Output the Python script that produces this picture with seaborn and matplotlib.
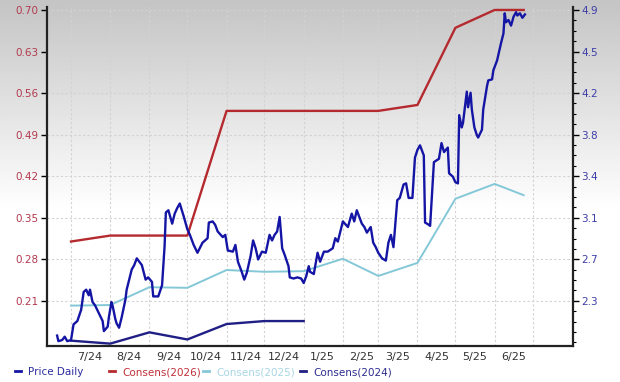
import matplotlib
matplotlib.use("Agg")

import numpy as np
import pandas as pd
import matplotlib.pyplot as plt
import matplotlib.dates as mdates
from matplotlib.ticker import AutoMinorLocator, FixedLocator, FixedFormatter, NullFormatter
import seaborn as sns


# daily share price (right axis)
price_dates = [
    "2024-06-20", "2024-06-21", "2024-06-24", "2024-06-26", "2024-06-28", "2024-07-01",
    "2024-07-03", "2024-07-06", "2024-07-09", "2024-07-11", "2024-07-13", "2024-07-15",
    "2024-07-16", "2024-07-18", "2024-07-20", "2024-07-23", "2024-07-26", "2024-07-27",
    "2024-07-30", "2024-07-31", "2024-08-02", "2024-08-03", "2024-08-05", "2024-08-06",
    "2024-08-08", "2024-08-10", "2024-08-13", "2024-08-14", "2024-08-18", "2024-08-20",
    "2024-08-22", "2024-08-24", "2024-08-26", "2024-08-29", "2024-08-31", "2024-09-03",
    "2024-09-04", "2024-09-06", "2024-09-08", "2024-09-11", "2024-09-13", "2024-09-14",
    "2024-09-16", "2024-09-19", "2024-09-21", "2024-09-23", "2024-09-25", "2024-09-28",
    "2024-10-01", "2024-10-03", "2024-10-06", "2024-10-09", "2024-10-13", "2024-10-17",
    "2024-10-18", "2024-10-21", "2024-10-23", "2024-10-25", "2024-10-29", "2024-10-31",
    "2024-11-02", "2024-11-06", "2024-11-08", "2024-11-10", "2024-11-13", "2024-11-15",
    "2024-11-17", "2024-11-20", "2024-11-22", "2024-11-24", "2024-11-26", "2024-11-29",
    "2024-12-02", "2024-12-05", "2024-12-07", "2024-12-09", "2024-12-11", "2024-12-13",
    "2024-12-15", "2024-12-17", "2024-12-20", "2024-12-21", "2024-12-24", "2024-12-27",
    "2024-12-30", "2025-01-01", "2025-01-03", "2025-01-05", "2025-01-06", "2025-01-09",
    "2025-01-12", "2025-01-14", "2025-01-17", "2025-01-20", "2025-01-24", "2025-01-26",
    "2025-01-28", "2025-02-01", "2025-02-05", "2025-02-08", "2025-02-10", "2025-02-12",
    "2025-02-16", "2025-02-18", "2025-02-20", "2025-02-23", "2025-02-25", "2025-02-27",
    "2025-03-01", "2025-03-04", "2025-03-07", "2025-03-09", "2025-03-11", "2025-03-13",
    "2025-03-16", "2025-03-18", "2025-03-21", "2025-03-23", "2025-03-25", "2025-03-28",
    "2025-03-30", "2025-04-01", "2025-04-03", "2025-04-06", "2025-04-07", "2025-04-10",
    "2025-04-11", "2025-04-14", "2025-04-18", "2025-04-20", "2025-04-22", "2025-04-25",
    "2025-04-26", "2025-04-29", "2025-05-01", "2025-05-03", "2025-05-04", "2025-05-06",
    "2025-05-07", "2025-05-10", "2025-05-11", "2025-05-13", "2025-05-14", "2025-05-16",
    "2025-05-18", "2025-05-19", "2025-05-22", "2025-05-23", "2025-05-26", "2025-05-27",
    "2025-05-30", "2025-05-31", "2025-06-03", "2025-06-06", "2025-06-08", "2025-06-09",
    "2025-06-10", "2025-06-12", "2025-06-14", "2025-06-16", "2025-06-18", "2025-06-19",
    "2025-06-21", "2025-06-23", "2025-06-25",
]
price_values = [
    2.00, 1.95, 1.96, 1.99, 1.95, 1.96,
    2.10, 2.13, 2.23, 2.39, 2.41, 2.36,
    2.41, 2.30, 2.27, 2.20, 2.13, 2.04,
    2.08, 2.17, 2.30, 2.26, 2.15, 2.11,
    2.07, 2.16, 2.32, 2.41, 2.59, 2.63,
    2.69, 2.66, 2.63, 2.50, 2.52, 2.48,
    2.35, 2.35, 2.35, 2.45, 2.80, 3.10,
    3.12, 3.00, 3.09, 3.14, 3.18, 3.07,
    2.95, 2.90, 2.81, 2.74, 2.83, 2.87,
    3.01, 3.02, 2.99, 2.93, 2.88, 2.90,
    2.76, 2.75, 2.81, 2.66, 2.57, 2.50,
    2.56, 2.71, 2.85, 2.78, 2.68, 2.75,
    2.74, 2.90, 2.85, 2.90, 2.93, 3.06,
    2.78, 2.72, 2.62, 2.52, 2.51, 2.52,
    2.51, 2.47, 2.53, 2.62, 2.57, 2.55,
    2.74, 2.66, 2.75, 2.75, 2.78, 2.87,
    2.84, 3.02, 2.97, 3.09, 3.02, 3.12,
    3.00, 2.97, 2.92, 2.97, 2.83, 2.79,
    2.74, 2.69, 2.67, 2.83, 2.90, 2.79,
    3.21, 3.23, 3.35, 3.36, 3.23, 3.23,
    3.59, 3.66, 3.70, 3.61, 3.01, 2.99,
    2.98, 3.55, 3.58, 3.72, 3.64, 3.68,
    3.45, 3.42, 3.37, 3.36, 3.97, 3.86,
    3.90, 4.18, 4.04, 4.17, 4.02, 3.86,
    3.79, 3.77, 3.84, 4.02, 4.23, 4.28,
    4.29, 4.37, 4.46, 4.61, 4.70, 4.88,
    4.80, 4.82, 4.77, 4.85, 4.89, 4.86,
    4.88, 4.84, 4.87,
]

# consensus EPS estimates (left axis)
cons_dates = [
    "2024-07-01", "2024-08-01", "2024-09-01", "2024-10-01", "2024-11-01", "2024-12-01",
    "2025-01-01", "2025-02-01", "2025-03-01", "2025-04-01", "2025-05-01", "2025-06-01",
    "2025-06-24",
]
cons_2026 = [0.31, 0.32, 0.32, 0.32, 0.53, 0.53, 0.53, 0.53, 0.53, 0.54, 0.67, 0.70, 0.70]
cons_2025 = [0.202, 0.203, 0.233, 0.232, 0.262, 0.259, 0.260, 0.281, 0.252, 0.274, 0.382, 0.407, 0.388]
cons_2024 = [0.143, 0.138, 0.157, 0.145, 0.171, 0.176, 0.176]

left_ticks = [0.21, 0.28, 0.35, 0.42, 0.49, 0.56, 0.63, 0.70]
right_labels = ["2.3", "2.7", "3.1", "3.4", "3.8", "4.2", "4.5", "4.9"]
x_labels = ["7/24", "8/24", "9/24", "10/24", "11/24", "12/24",
            "1/25", "2/25", "3/25", "4/25", "5/25", "6/25"]


def left_to_right(v):
    # price axis is scaled so that its gridlines sit on the EPS gridlines
    return 2.31 + (v - 0.21) / 0.07 * 0.3714


def main():
    plt.rcParams['font.family'] = ['DejaVu Sans']
    fig = plt.figure(figsize=(6.2, 3.82), dpi=100)

    # grey-to-white background
    bg = fig.add_axes([0, 0, 1, 1], zorder=-10)
    t = np.linspace(0, 1, 200)
    grad = np.clip(0.77 + 0.23 * t / 0.55, 0, 1).reshape(-1, 1)
    bg.imshow(grad, aspect='auto', cmap='gray', vmin=0, vmax=1, extent=[0, 1, 0, 1])
    bg.axis('off')

    ax = fig.add_axes([47 / 620, 36 / 382, 526 / 620, 339 / 382])
    ax.set_facecolor('none')
    ax2 = ax.twinx()
    ax2.set_facecolor('none')

    cd = pd.to_datetime(cons_dates)
    sns.lineplot(x=cd, y=cons_2026, ax=ax, color='#b52a2e', lw=1.7, label='Consens(2026)')
    sns.lineplot(x=cd, y=cons_2025, ax=ax, color='#84c8d8', lw=1.4, label='Consens(2025)')
    sns.lineplot(x=cd[:len(cons_2024)], y=cons_2024, ax=ax, color='#1f1f85', lw=1.7,
                 label='Consens(2024)')
    sns.lineplot(x=pd.to_datetime(price_dates), y=price_values, ax=ax2, color='#1515a5',
                 lw=1.7, label='Price Daily')
    for a in (ax, ax2):
        if a.get_legend() is not None:
            a.get_legend().remove()

    lo, hi = 0.134, 0.705
    ax.set_ylim(lo, hi)
    ax2.set_ylim(left_to_right(lo), left_to_right(hi))
    ax.set_xlim(pd.Timestamp("2024-06-12"), pd.Timestamp("2025-08-02"))

    ax.set_yticks(left_ticks, [f"{v:.2f}" for v in left_ticks])
    ax2.set_yticks([left_to_right(v) for v in left_ticks], right_labels)
    ax2.yaxis.set_minor_locator(AutoMinorLocator(4))

    # gridlines on month starts, labels in the middle of each month
    ax.xaxis.set_major_locator(mdates.MonthLocator())
    ax.xaxis.set_major_formatter(NullFormatter())
    mid = pd.date_range("2024-07-01", periods=12, freq="MS") + pd.Timedelta(days=15)
    ax.xaxis.set_minor_locator(FixedLocator(mdates.date2num(mid)))
    ax.xaxis.set_minor_formatter(FixedFormatter(x_labels))
    ax.tick_params(axis='x', which='both', length=0, pad=4, labelsize=8, labelcolor='#333333')

    ax.tick_params(axis='y', length=4, width=1, pad=2, labelsize=7.5, labelcolor='#b23a4e')
    ax2.tick_params(axis='y', which='major', length=4, width=1, pad=2, labelsize=7.5,
                    labelcolor='#3d3da8')
    ax2.tick_params(axis='y', which='minor', length=2.5, width=0.8)

    ax.grid(True, which='major', color='#d2d2d2', ls=(0, (2, 2)), lw=0.8)
    ax.set_axisbelow(True)
    ax.set_xlabel('')
    ax.set_ylabel('')
    ax2.set_ylabel('')

    for s in ('top', 'right'):
        ax.spines[s].set_visible(False)
    for s in ('top', 'left', 'bottom'):
        ax2.spines[s].set_visible(False)
    for sp in (ax.spines['left'], ax.spines['bottom'], ax2.spines['right']):
        sp.set_linewidth(1.6)
        sp.set_color('#222222')

    # legend row along the bottom, one entry per slot
    lines = {l.get_label(): l for l in ax.get_lines() + ax2.get_lines()}
    entries = [('Price Daily', '#2c2ca0', 0.024),
               ('Consens(2026)', '#c0303a', 0.176),
               ('Consens(2025)', '#a8d6e4', 0.327),
               ('Consens(2024)', '#2c2c90', 0.484)]
    for name, tcol, xpos in entries:
        h = lines[name]
        leg = fig.legend([h], [name], loc='center left', bbox_to_anchor=(xpos, 0.026),
                         frameon=False, fontsize=7.5, handlelength=0.6, handletextpad=0.7,
                         borderpad=0, borderaxespad=0)
        for lh in leg.legend_handles:
            lh.set_linewidth(2)
        for txt in leg.get_texts():
            txt.set_color(tcol)

    fig.savefig("out.png", dpi=100)


if __name__ == "__main__":
    main()
